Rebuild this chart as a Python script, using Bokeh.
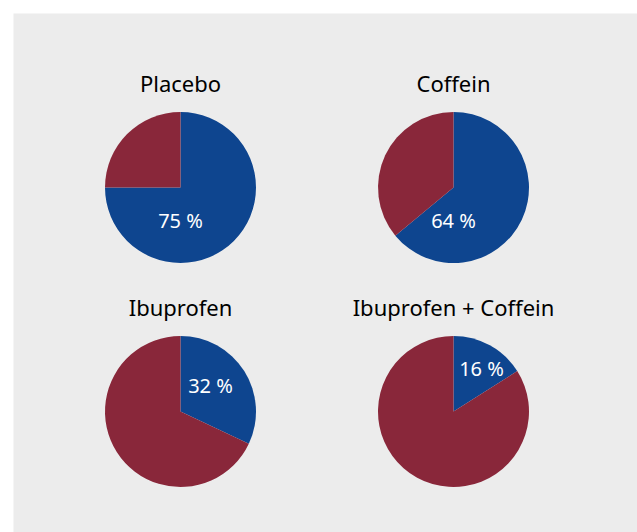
import math
from bokeh.plotting import figure
from bokeh.models import ColumnDataSource, Range1d
from bokeh.core.properties import value
from bokeh.embed import file_html
from bokeh.resources import INLINE

groups = ["Placebo", "Coffein", "Ibuprofen", "Ibuprofen + Coffein"]
responders = [75, 64, 32, 16]

BLUE = "#0e458f"
RED = "#89273a"
BG = "#ececec"

W, H = 637, 532
ML, MT = 13, 13
FW, FH = W - ML, H - MT

p = figure(width=W, height=H, output_backend="svg", toolbar_location=None,
           x_range=Range1d(0, FW), y_range=Range1d(0, FH),
           min_border_left=ML, min_border_top=MT, min_border_right=0, min_border_bottom=0)
p.axis.visible = False
p.grid.visible = False
p.outline_line_color = None
p.background_fill_color = BG
p.border_fill_color = "white"

# page pixel -> data coordinate
def px(x):
    return x - ML

def py(y):
    return H - y

centers = [(180, 187), (453, 187), (180, 411), (453, 411)]
R = 75.5

rows = dict(x=[], y=[], s=[], e=[], c=[])
for (cx, cy), v in zip(centers, responders):
    start = math.pi / 2
    end = start - v / 100 * 2 * math.pi
    rows["x"] += [px(cx), px(cx)]
    rows["y"] += [py(cy), py(cy)]
    rows["s"] += [end, start]
    rows["c"] += [BLUE, RED]
    rows["e"] += [start, end + 2 * math.pi]
src = ColumnDataSource(rows)
p.wedge(x="x", y="y", radius=R, start_angle="s", end_angle="e",
        fill_color="c", line_color=None, source=src)

# titles
tsrc = ColumnDataSource(dict(
    x=[px(cx) for cx, cy in centers],
    y=[py(cy - 105) for cx, cy in centers],
    t=groups))
p.text(x="x", y="y", text="t", source=tsrc, text_align="center", text_baseline="middle",
       text_font=value("Noto Sans"), text_font_size="22px", text_color="#000000")

# percentage labels
offsets = [(0, 33), (0, 33), (30, -26), (28, -43)]
lsrc = ColumnDataSource(dict(
    x=[px(cx + dx) for (cx, cy), (dx, dy) in zip(centers, offsets)],
    y=[py(cy + dy) for (cx, cy), (dx, dy) in zip(centers, offsets)],
    t=[f"{v} %" for v in responders]))
p.text(x="x", y="y", text="t", source=lsrc, text_align="center", text_baseline="middle",
       text_font=value("Noto Sans"), text_font_size="20px", text_color="white")

open("out.html", "w").write(file_html(p, INLINE))
